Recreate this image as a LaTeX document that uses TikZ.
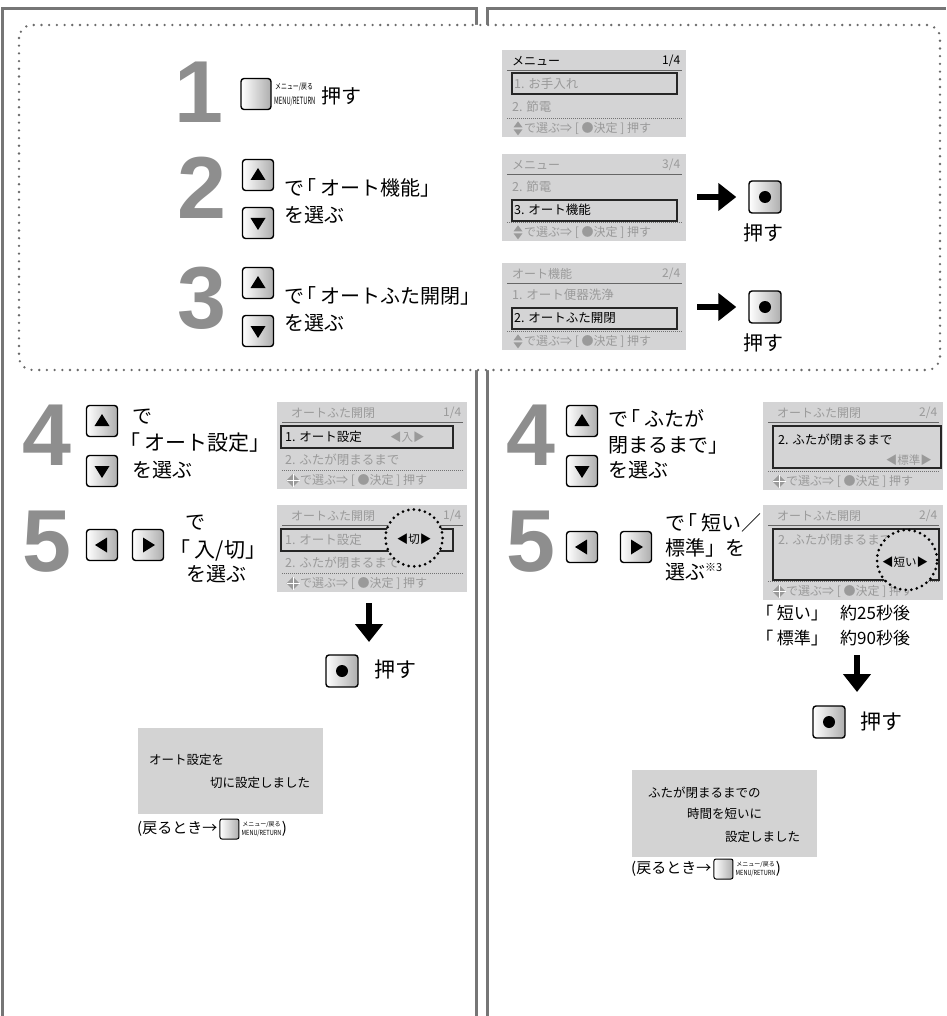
\documentclass[tikz,border=0pt]{standalone}
\usepackage{fontspec}
\setmainfont{Noto Sans CJK JP}
\newfontfamily\numfont{Liberation Sans}
\usepackage{graphicx}
\usetikzlibrary{calc,arrows.meta,positioning}
\definecolor{framegray}{HTML}{767676}
\definecolor{dotgray}{HTML}{6A6A6A}
\definecolor{numgray}{HTML}{8E8E8E}
\definecolor{scrgray}{HTML}{D4D4D5}
\definecolor{txtgray}{HTML}{9A9A9A}
\definecolor{resgray}{HTML}{D3D3D3}
\newcommand{\fsz}[1]{\fontsize{#1}{#1}\selectfont}
\newcommand{\LB}{\makebox[0.8em][l]{\hspace{-0.4em}「}}
\newcommand{\RB}{」}
% screen base: name, x, y, w, h, title x-offset, title, page, colour
\newcommand{\Scr}[9]{%
  \node[scrbg, minimum width=#4pt, minimum height=#5pt, anchor=north west] (#1) at (#2,#3) {};
  \node[stt, text=#9, anchor=west] (#1t) at ($(#1.north west)+(#6,11)$) {#7};
  \node[stt, text=#9, anchor=east] (#1p) at ($(#1.north east)+(-6,11)$) {#8};
  \draw[sepl] ($(#1.north west)+(5,20)$) -- ($(#1.north east)+(-4,20)$);
}
\newcommand{\HelpUD}[1]{%
  \draw[dotl] ($(#1.south west)+(5,-19)$) -- ($(#1.south east)+(-4,-19)$);
  \coordinate (#1i) at ($(#1.south west)+(16,-9)$);
  \fill[txtgray] ($(#1i)+(-4.5,-1)$) -- ($(#1i)+(4.5,-1)$) -- ($(#1i)+(0,-7)$) -- cycle;
  \fill[txtgray] ($(#1i)+(-4.5,1)$) -- ($(#1i)+(4.5,1)$) -- ($(#1i)+(0,7)$) -- cycle;
  \node[hlp] (#1h) at ($(#1i)+(6,0)$) {で選ぶ⇒ [ ●決定 ] 押す};
}
\newcommand{\HelpDia}[1]{%
  \draw[dotl] ($(#1.south west)+(5,-19)$) -- ($(#1.south east)+(-4,-19)$);
  \coordinate (#1i) at ($(#1.south west)+(16,-9)$);
  \fill[txtgray] ($(#1i)+(0,-6.5)$) -- ($(#1i)+(6.5,0)$) -- ($(#1i)+(0,6.5)$) -- ($(#1i)+(-6.5,0)$) -- cycle;
  \draw[white, line width=0.7pt] ($(#1i)+(-6.5,0)$) -- ($(#1i)+(6.5,0)$) ($(#1i)+(0,-6.5)$) -- ($(#1i)+(0,6.5)$);
  \node[hlp] (#1h) at ($(#1i)+(7,0)$) {で選ぶ⇒ [ ●決定 ] 押す};
}
\newcommand{\UpSym}[1]{\fill ($(#1)+(-7.5,5)$) -- ($(#1)+(7.5,5)$) -- ($(#1)+(0,-7)$) -- cycle;}
\newcommand{\DnSym}[1]{\fill ($(#1)+(-7.5,-5)$) -- ($(#1)+(7.5,-5)$) -- ($(#1)+(0,7)$) -- cycle;}
\newcommand{\LtSym}[1]{\fill ($(#1)+(5,-7.5)$) -- ($(#1)+(5,7.5)$) -- ($(#1)+(-7,0)$) -- cycle;}
\newcommand{\RtSym}[1]{\fill ($(#1)+(-5,-7.5)$) -- ($(#1)+(-5,7.5)$) -- ($(#1)+(7,0)$) -- cycle;}
\newcommand{\OkSym}[1]{\fill (#1) circle (6);}
\begin{document}
\begin{tikzpicture}[x=1pt,y=-1pt,
  frame/.style={draw=framegray, line width=3pt},
  dotbox/.style={draw=dotgray, line width=2.6pt, dash pattern=on 0pt off 7.7pt, line cap=round, rounded corners=13pt, fill=white},
  num/.style={font=\numfont\bfseries\fsz{88}, text=numgray, inner sep=0pt},
  btn/.style={draw=black, line width=1.4pt, rounded corners=3pt, minimum width=31pt, minimum height=31pt, inner sep=0pt, left color=white, right color=black!32},
  jt/.style={font=\fsz{20}, anchor=west, inner sep=0pt},
  scrbg/.style={fill=scrgray, inner sep=0pt, draw=none},
  stt/.style={font=\fsz{12}, inner sep=0pt},
  srow/.style={font=\fsz{12.5}, inner sep=0pt, anchor=west},
  selbox/.style={draw=black!85, line width=1.1pt},
  sepl/.style={draw=black!60, line width=0.9pt},
  dotl/.style={draw=black!55, line width=0.9pt, dash pattern=on 0.9pt off 1.1pt},
  hlp/.style={font=\fsz{12}, text=txtgray, inner sep=0pt, anchor=west},
  bigarr/.style={line width=5.5pt, -{Triangle[width=27pt,length=18pt]}},
  dcirc/.style={circle, draw=black, line width=3pt, dash pattern=on 0pt off 5.6pt, line cap=round, fill=scrgray, inner sep=0pt},
  resbox/.style={fill=resgray, inner sep=0pt, anchor=north west},
  rtxt/.style={font=\fsz{12.5}, anchor=west, inner sep=0pt},
  mini/.style={btn, minimum width=19pt, minimum height=20pt, line width=1pt, rounded corners=2pt},
]
\useasboundingbox (0,0) rectangle (946,1016);
% frames
\draw[frame] (2,1016) -- (2,9) -- (476,9) -- (476,25);
\draw[frame] (476,370) -- (476,1016);
\draw[frame] (487,25) -- (487,9) -- (946,9);
\draw[frame] (487,370) -- (487,1016);
\draw[dotbox] (19,25) rectangle (940,370);

% ---------- step 1
\node[num] (n1) at (199,92) {1};
\node[btn, minimum width=30pt, minimum height=31pt] (b1) at (256,94) {};
\node[font=\fsz{8}, anchor=west, inner sep=0pt] (b1j) at (275,87) {\scalebox{0.74}[1]{メニュー/戻る}};
\node[font=\fsz{10}, anchor=west, inner sep=0pt] (b1e) at (274,101) {\scalebox{0.58}[1]{MENU/RETURN}};
\node[jt, font=\fsz{20}] (p1) at (321,96) {押す};
\Scr{s1}{502}{50}{184}{87}{10}{メニュー}{1/4}{black}
\draw[selbox] (512,73) rectangle (677,94);
\node[srow, text=txtgray] (s1r1) at (514,84) {1. お手入れ};
\node[srow, text=txtgray] (s1r2) at (512,107) {2. 節電};
\HelpUD{s1}

% ---------- step 2
\node[num] (n2) at (202,188) {2};
\node[btn] (u2) at (258,175) {}; \UpSym{u2}
\node[btn] (d2) at (258,223) {}; \DnSym{d2}
\node[jt] (t2a) at (284,188) {で\LB オート機能\RB};
\node[jt] (t2b) at (284,215) {を選ぶ};
\Scr{s2}{502}{154}{184}{87}{10}{メニュー}{3/4}{txtgray}
\node[srow, text=txtgray] (s2r1) at (512,187) {2. 節電};
\draw[selbox] (512,200) rectangle (677,221);
\node[srow] (s2r2) at (514,210) {3. オート機能};
\HelpUD{s2}
\node[btn, minimum width=32pt, minimum height=32pt] (k2) at (765,197) {}; \OkSym{k2}
\node[font=\fsz{20}, inner sep=0pt] (k2p) at (763,233) {押す};
\draw[bigarr] ($(s2.east |- k2)+(11,0)$) -- ($(k2.west)+(-12,0)$);

% ---------- step 3
\node[num] (n3) at (202,298) {3};
\node[btn] (u3) at (258,283) {}; \UpSym{u3}
\node[btn] (d3) at (258,331) {}; \DnSym{d3}
\node[jt] (t3a) at (284,296) {で\LB オートふた開閉\RB};
\node[jt] (t3b) at (284,323) {を選ぶ};
\Scr{s3}{502}{263}{184}{87}{10}{オート機能}{2/4}{txtgray}
\node[srow, text=txtgray] (s3r1) at (512,295) {1. オート便器洗浄};
\draw[selbox] (512,308) rectangle (677,329);
\node[srow] (s3r2) at (514,318) {2. オートふた開閉};
\HelpUD{s3}
\node[btn, minimum width=32pt, minimum height=32pt] (k3) at (765,307) {}; \OkSym{k3}
\node[font=\fsz{20}, inner sep=0pt] (k3p) at (763,343) {押す};
\draw[bigarr] ($(s3.east |- k3)+(11,0)$) -- ($(k3.west)+(-12,0)$);

% ---------- left step 4
\node[num] (nL4) at (47,435) {4};
\node[btn] (uL4) at (102,421) {}; \UpSym{uL4}
\node[btn] (dL4) at (102,471) {}; \DnSym{dL4}
\node[jt] (tL4a) at (132,417) {で};
\node[jt, font=\fsz{21}] (tL4b) at (128,443) {\LB オート設定\RB};
\node[jt] (tL4c) at (132,470) {を選ぶ};
\Scr{sL4}{277}{402}{190}{87}{14}{オートふた開閉}{1/4}{txtgray}
\draw[selbox] (281,426) rectangle (453,448);
\node[srow] (sL4r1) at (285,437) {1. オート設定};
\node[srow, text=txtgray, font=\fsz{11.5}] (sL4v) at (390,437) {◀入▶};
\node[srow, text=txtgray] (sL4r2) at (285,460) {2. ふたが閉まるまで};
\HelpDia{sL4}

% ---------- left step 5
\node[num] (nL5) at (47,542) {5};
\node[btn] (lL5) at (102,545) {}; \LtSym{lL5}
\node[btn] (rL5) at (148,545) {}; \RtSym{rL5}
\node[jt] (tL5a) at (185,523) {で};
\node[jt, font=\fsz{21}] (tL5b) at (178,550) {\LB 入/切\RB};
\node[jt] (tL5c) at (186,574) {を選ぶ};
\Scr{sL5}{277}{505}{190}{87}{14}{オートふた開閉}{1/4}{txtgray}
\draw[selbox] (281,529) rectangle (453,551);
\node[srow, text=txtgray] (sL5r1) at (285,540) {1. オート設定};
\node[srow, text=txtgray] (sL5r2) at (285,563) {2. ふたが閉まるまで};
\HelpDia{sL5}
\node[dcirc, minimum size=57pt] (cL5) at (414,538) {};
\node[font=\fsz{11.5}, inner sep=0pt] (cL5v) at (414,539) {◀切▶};
\coordinate (aL1) at (369,603);
\coordinate (aL2) at (369,642);
\draw[bigarr] (aL1) -- (aL2);
\node[btn, minimum width=32pt, minimum height=32pt] (kL) at (342,671) {}; \OkSym{kL}
\node[font=\fsz{21}, inner sep=0pt] (kLp) at (395,670) {押す};
\node[resbox, minimum width=185pt, minimum height=86pt] (resL) at (138,728) {};
\node[rtxt] (resL1) at (149,760) {オート設定を};
\node[rtxt] (resL2) at (210,783) {切に設定しました};
\node[font=\fsz{15}, anchor=west, inner sep=0pt] (retL) at (137,829) {(戻るとき→};
\node[mini, right=2pt of retL] (retLb) {};
\node[font=\fsz{6}, align=center, inner sep=0pt, anchor=west] (retLl) at ([xshift=2pt]retLb.east) {メニュー/戻る\\[1pt]\scalebox{0.8}[1]{\fsz{7}MENU/RETURN}};
\node[font=\fsz{15}, anchor=west, inner sep=0pt] (retLp) at (retLl.east) {)};

% ---------- right step 4
\node[num] (nR4) at (531,435) {4};
\node[btn] (uR4) at (582,421) {}; \UpSym{uR4}
\node[btn] (dR4) at (582,471) {}; \DnSym{dR4}
\node[jt] (tR4a) at (608,418) {で\LB ふたが};
\node[jt] (tR4b) at (608,445) {閉まるまで\RB};
\node[jt] (tR4c) at (608,470) {を選ぶ};
\Scr{sR4}{763}{402}{180}{88}{14}{オートふた開閉}{2/4}{txtgray}
\draw[selbox] (773,426) rectangle (941,468);
\node[srow] (sR4r1) at (778,440) {2. ふたが閉まるまで};
\node[srow, text=txtgray, font=\fsz{11.5}, anchor=east] (sR4v) at (932,460) {◀標準▶};
\HelpDia{sR4}

% ---------- right step 5
\node[num] (nR5) at (531,542) {5};
\node[btn] (lR5) at (582,547) {}; \LtSym{lR5}
\node[btn] (rR5) at (636,547) {}; \RtSym{rR5}
\node[jt] (tR5a) at (665,523) {で\LB 短い／};
\node[jt] (tR5b) at (665,548) {標準\RB を};
\node[jt] (tR5c) at (665,572) {選ぶ\textsuperscript{\fsz{11}※3}};
\Scr{sR5}{763}{505}{180}{95}{14}{オートふた開閉}{2/4}{txtgray}
\draw[selbox] (773,529) rectangle (939,580);
\node[srow, text=txtgray] (sR5r1) at (778,540) {2. ふたが閉まるまで};
\HelpDia{sR5}
\node[dcirc, minimum size=60pt] (cR5) at (907,560) {};
\node[font=\fsz{11.5}, inner sep=0pt] (cR5v) at (905,562) {◀短い▶};
\node[font=\fsz{17}, anchor=west, inner sep=0pt] (qa1) at (763,613) {\LB 短い\RB};
\node[font=\fsz{17}, anchor=west, inner sep=0pt] (qa2) at (840,613) {約25秒後};
\node[font=\fsz{17}, anchor=west, inner sep=0pt] (qb1) at (763,638) {\LB 標準\RB};
\node[font=\fsz{17}, anchor=west, inner sep=0pt] (qb2) at (840,638) {約90秒後};
\coordinate (aR1) at (857,655);
\coordinate (aR2) at (857,692);
\draw[bigarr] (aR1) -- (aR2);
\node[btn, minimum width=32pt, minimum height=32pt] (kR) at (829,722) {}; \OkSym{kR}
\node[font=\fsz{21}, inner sep=0pt] (kRp) at (881,722) {押す};
\node[resbox, minimum width=185pt, minimum height=87pt] (resR) at (632,770) {};
\node[rtxt] (resR1) at (648,793) {ふたが閉まるまでの};
\node[rtxt] (resR2) at (687,814) {時間を短いに};
\node[rtxt] (resR3) at (725,837) {設定しました};
\node[font=\fsz{15}, anchor=west, inner sep=0pt] (retR) at (631,869) {(戻るとき→};
\node[mini, right=2pt of retR] (retRb) {};
\node[font=\fsz{6}, align=center, inner sep=0pt, anchor=west] (retRl) at ([xshift=2pt]retRb.east) {メニュー/戻る\\[1pt]\scalebox{0.8}[1]{\fsz{7}MENU/RETURN}};
\node[font=\fsz{15}, anchor=west, inner sep=0pt] (retRp) at (retRl.east) {)};
\end{tikzpicture}
\end{document}
